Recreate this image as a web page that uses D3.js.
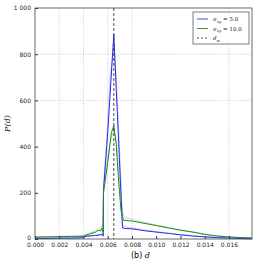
<!DOCTYPE html>
<html lang="en">
<head>
    <meta charset="UTF-8">
    <title>P(d)</title>
    <script src="https://d3js.org/d3.v7.min.js"></script>
    <style>
        body { margin: 0; background: #fff; }
        .tick text { font-family: "DejaVu Sans", sans-serif; font-size: 6px; fill: #222; }
    </style>
</head>
<body>
    <div id="chart"></div>

    <script>
        // datos
        const dBlue = [0, 0.001, 0.002, 0.003, 0.0038, 0.0042, 0.005, 0.0054, 0.0056, 0.00562, 0.00565, 0.006, 0.0062, 0.0065, 0.0067, 0.0069, 0.0071, 0.00722, 0.0075, 0.008, 0.009, 0.010, 0.011, 0.012, 0.013, 0.014, 0.015, 0.016, 0.017, 0.0179];
        const pBlue = [3, 3, 4, 4, 5, 12, 15, 18, 20, 12, 210, 460, 630, 885, 650, 420, 185, 48, 45, 44, 36, 30, 24, 18, 13, 9, 6, 4, 2, 1];
        const dGreen = [0, 0.001, 0.002, 0.003, 0.004, 0.0045, 0.005, 0.0052, 0.0054, 0.0055, 0.00558, 0.00562, 0.00565, 0.006, 0.0063, 0.0065, 0.0067, 0.0069, 0.0071, 0.0073, 0.0075, 0.008, 0.009, 0.010, 0.011, 0.012, 0.013, 0.014, 0.015, 0.016, 0.017, 0.0179];
        const pGreen = [8, 9, 10, 11, 12, 22, 30, 38, 35, 45, 30, 28, 200, 330, 460, 490, 410, 250, 120, 82, 80, 78, 68, 58, 48, 38, 30, 20, 13, 9, 6, 5];
        // curvas tenues (dispersion)
        const pBlueFaint = [4, 4, 5, 5, 6, 14, 17, 20, 22, 14, 230, 500, 700, 840, 700, 480, 230, 60, 52, 48, 39, 32, 26, 19, 14, 10, 7, 4, 2, 1];
        const pGreenFaint = [10, 11, 12, 13, 14, 26, 36, 45, 42, 55, 36, 32, 220, 360, 440, 470, 430, 300, 170, 100, 92, 86, 72, 61, 50, 40, 31, 21, 14, 9, 6, 5];
        const dW = 0.0065;
        const xTicks = [0, 0.002, 0.004, 0.006, 0.008, 0.010, 0.012, 0.014, 0.016];
        const yTicks = [0, 200, 400, 600, 800, 1000];
        const xGrid = [0.002, 0.004, 0.006, 0.008, 0.016];
        const yGrid = [600, 800];

        const margin = { top: 8, right: 14, bottom: 27, left: 35 };
        const width = 266 - margin.left - margin.right;
        const height = 266 - margin.top - margin.bottom;

        const svg = d3.select("#chart").append("svg")
            .attr("width", 266)
            .attr("height", 266)
            .append("g")
            .attr("transform", `translate(${margin.left},${margin.top})`);

        const xScale = d3.scaleLinear().domain([0, 0.0179]).range([0, width]);
        const yScale = d3.scaleLinear().domain([0, 1000]).range([height, 0]);

        // rejilla
        svg.append("g").selectAll("line").data(xGrid)
            .enter().append("line")
            .attr("x1", d => xScale(d)).attr("x2", d => xScale(d))
            .attr("y1", 0).attr("y2", height)
            .attr("stroke", "#aaa").attr("stroke-width", 0.6).attr("stroke-dasharray", "1,1.5");
        svg.append("g").selectAll("line").data(yGrid)
            .enter().append("line")
            .attr("x1", 0).attr("x2", width)
            .attr("y1", d => yScale(d)).attr("y2", d => yScale(d))
            .attr("stroke", "#aaa").attr("stroke-width", 0.6).attr("stroke-dasharray", "1,1.5");

        // curvas
        const line = (xs) => d3.line().x((d, i) => xScale(xs[i])).y(d => yScale(d));
        svg.append("path").datum(pBlueFaint).attr("d", line(dBlue))
            .attr("fill", "none").attr("stroke", "#8c8cf5").attr("stroke-opacity", 0.5).attr("stroke-width", 1);
        svg.append("path").datum(pGreenFaint).attr("d", line(dGreen))
            .attr("fill", "none").attr("stroke", "#7ec07e").attr("stroke-opacity", 0.5).attr("stroke-width", 1);
        svg.append("path").datum(pBlue).attr("d", line(dBlue))
            .attr("fill", "none").attr("stroke", "#2a2af0").attr("stroke-width", 1);
        svg.append("path").datum(pGreen).attr("d", line(dGreen))
            .attr("fill", "none").attr("stroke", "#1f8a1f").attr("stroke-width", 1);

        // d_w
        svg.append("line")
            .attr("x1", xScale(dW)).attr("x2", xScale(dW))
            .attr("y1", 0).attr("y2", height)
            .attr("stroke", "#333").attr("stroke-width", 0.9).attr("stroke-dasharray", "3,2");

        // ejes
        svg.append("g").attr("transform", `translate(0, ${height})`)
            .call(d3.axisBottom(xScale).tickValues(xTicks).tickFormat(d3.format(".3f")).tickSizeInner(-3).tickSizeOuter(0).tickPadding(4));
        svg.append("g")
            .call(d3.axisLeft(yScale).tickValues(yTicks).tickFormat(d => d === 1000 ? "1 000" : d).tickSizeInner(-3).tickSizeOuter(0).tickPadding(4))
            .selectAll(".tick text").attr("dy", d => d === 0 ? "0.1em" : "0.32em");
        svg.selectAll(".domain").remove();
        svg.selectAll(".tick line").attr("stroke", "#333");

        svg.append("rect").attr("width", width).attr("height", height)
            .attr("fill", "none").attr("stroke", "#444").attr("stroke-width", 0.8);

        // etiquetas
        svg.append("text")
            .attr("transform", `translate(${-25},${yScale(500)}) rotate(-90)`)
            .attr("text-anchor", "middle")
            .style("font-family", "DejaVu Serif, serif").style("font-style", "italic").style("font-size", "8px")
            .text("P(d)");
        const xl = svg.append("text")
            .attr("x", xScale(0.0087)).attr("y", height + 19)
            .attr("text-anchor", "middle")
            .style("font-family", "DejaVu Sans, sans-serif").style("font-size", "8px");
        xl.append("tspan").text("(b) ");
        xl.append("tspan").style("font-family", "DejaVu Serif, serif").style("font-style", "italic").text("d");

        // leyenda
        const lg = svg.append("g").attr("transform", `translate(${width - 59},4)`);
        lg.append("rect").attr("width", 56).attr("height", 32)
            .attr("fill", "#fff").attr("stroke", "#444").attr("stroke-width", 0.7);
        const items = [
            { c: "#2a2af0", dash: null, t: "xy", v: " = 5.0" },
            { c: "#1f8a1f", dash: null, t: "xy", v: " = 10.0" },
            { c: "#333", dash: "2,2", t: null, v: "" }
        ];
        items.forEach((it, i) => {
            const y = 7 + i * 9.5;
            lg.append("line").attr("x1", 4).attr("x2", 15).attr("y1", y).attr("y2", y)
                .attr("stroke", it.c).attr("stroke-width", 0.9).attr("stroke-dasharray", it.dash);
            const tx = lg.append("text").attr("x", 20).attr("y", y + 2)
                .style("font-family", "DejaVu Serif, serif").style("font-size", "5.5px").attr("fill", "#222");
            if (it.t) {
                tx.append("tspan").style("font-style", "italic").text("σ");
                tx.append("tspan").attr("dy", 1.5).style("font-size", "4px").style("font-style", "italic").text(it.t);
                tx.append("tspan").attr("dy", -1.5).text(it.v);
            } else {
                tx.append("tspan").style("font-style", "italic").text("d");
                tx.append("tspan").attr("dy", 1.5).style("font-size", "4px").style("font-style", "italic").text("w");
            }
        });
    </script>
</body>
</html>
